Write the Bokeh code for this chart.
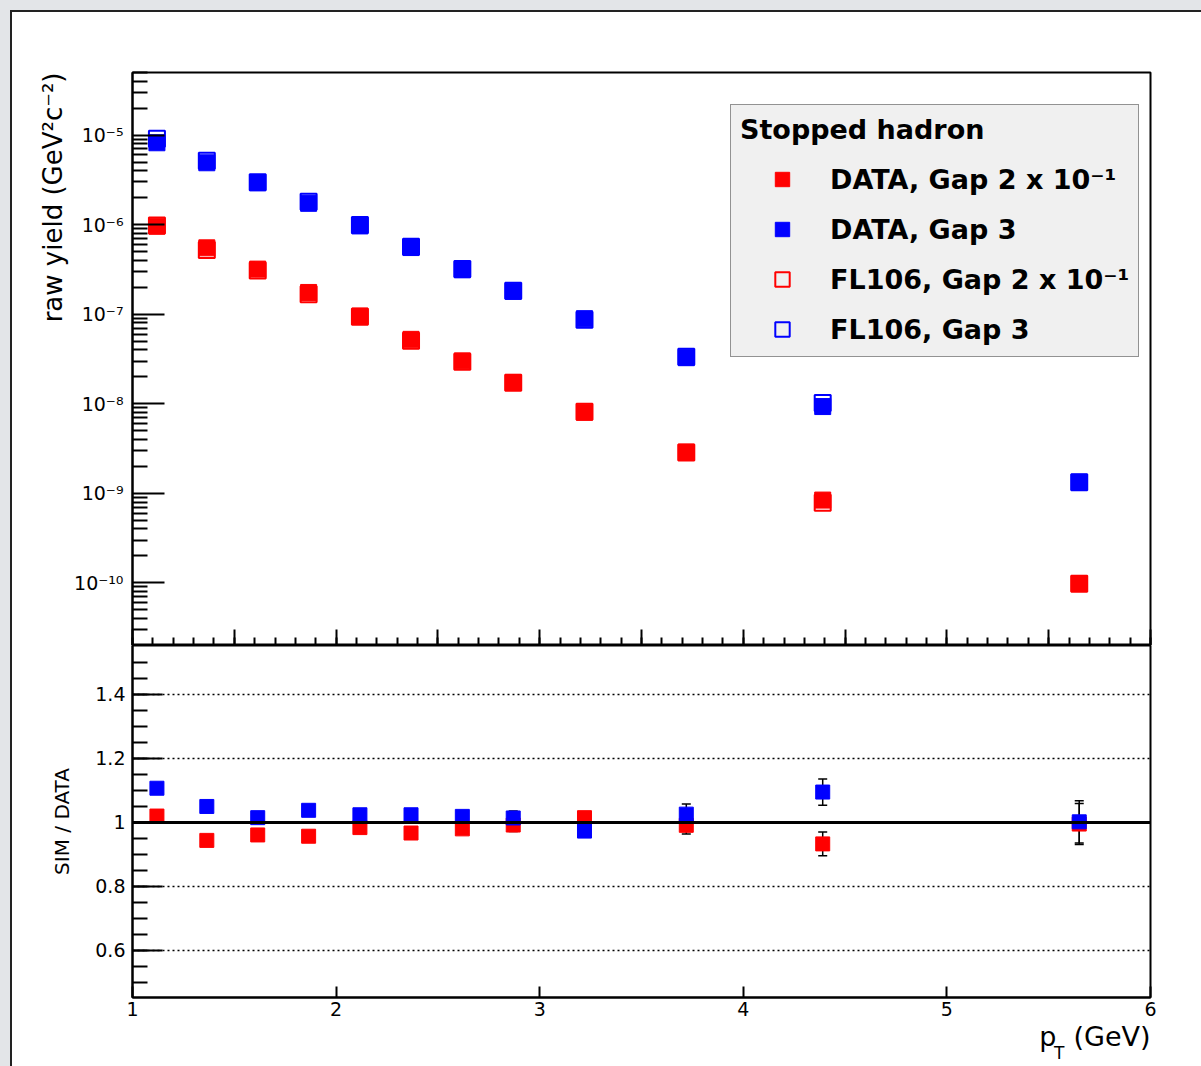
from bokeh.plotting import figure
from bokeh.models import (Range1d, FixedTicker, CustomJSTickFormatter, Legend, LegendItem,
                          Span, Title, Whisker, TeeHead, ColumnDataSource, Spacer)
from bokeh.layouts import column, row
from bokeh.embed import file_html
from bokeh.resources import INLINE

# ---------------- data ----------------
pt = [1.12, 1.365, 1.615, 1.865, 2.117, 2.368, 2.62, 2.87, 3.22, 3.72, 4.39, 5.65]

data_gap2 = [9.62e-7, 5.51e-7, 3.19e-7, 1.75e-7, 9.55e-8, 5.24e-8, 3.01e-8, 1.73e-8,
             8.05e-9, 2.88e-9, 8.41e-10, 9.85e-11]
data_gap3 = [8.21e-6, 4.91e-6, 2.94e-6, 1.73e-6, 9.68e-7, 5.55e-7, 3.13e-7, 1.80e-7,
             8.91e-8, 3.27e-8, 9.31e-9, 1.33e-9]
sim_gap2 = [9.81e-7, 5.20e-7, 3.07e-7, 1.67e-7, 9.40e-8, 5.07e-8, 2.95e-8, 1.72e-8,
            8.17e-9, 2.85e-9, 7.85e-10, 9.80e-11]
sim_gap3 = [9.09e-6, 5.16e-6, 2.98e-6, 1.80e-6, 9.91e-7, 5.68e-7, 3.19e-7, 1.83e-7,
            8.67e-8, 3.36e-8, 1.02e-8, 1.33e-9]

ratio_gap2 = [1.020, 0.944, 0.961, 0.957, 0.984, 0.967, 0.980, 0.992, 1.015, 0.991, 0.933, 0.995]
ratio_gap2_err = [0.005, 0.006, 0.007, 0.008, 0.009, 0.011, 0.013, 0.020, 0.017, 0.027, 0.037, 0.064]
ratio_gap3 = [1.107, 1.050, 1.015, 1.038, 1.024, 1.024, 1.019, 1.014, 0.973, 1.026, 1.095, 1.002]
ratio_gap3_err = [0.006, 0.006, 0.007, 0.008, 0.009, 0.010, 0.012, 0.022, 0.018, 0.032, 0.041, 0.066]

legend_title = "Stopped hadron"
legend_labels = ["DATA, Gap 2 x 10\u207b\u00b9", "DATA, Gap 3",
                 "FL106, Gap 2 x 10\u207b\u00b9", "FL106, Gap 3"]
y_title_top = "raw yield (GeV\u00b2c\u207b\u00b2)"
y_title_bottom = "SIM / DATA"
x_title_main = "p\u00a0\u00a0(GeV)"
x_title_sub = "T"

# ---------------- layout constants ----------------
FONT = "DejaVu Sans"
RED = "#ff0000"
BLUE = "#0000ff"
GREY = "#e3e5e8"
DARK = "#222222"

X0, X1 = 1.0, 6.0
Y0, Y1 = 2e-11, 5e-5
R0, R1 = 0.453, 1.553
W = 1189
H1, H2 = 633, 421
BL, BR = 120, 51

# ---------------- top panel ----------------
p1 = figure(width=W, height=H1, x_range=Range1d(X0, X1), y_range=Range1d(Y0, Y1),
            y_axis_type="log", output_backend="svg", toolbar_location=None,
            min_border_left=BL, min_border_right=BR, min_border_top=60, min_border_bottom=0,
            background_fill_color="white", border_fill_color="white")
p1.grid.visible = False
p1.outline_line_color = "black"
p1.outline_line_width = 2

log_fmt = CustomJSTickFormatter(code="""
const sup = {"-": "\u207b", "0": "\u2070", "1": "\u00b9", "2": "\u00b2", "3": "\u00b3",
             "4": "\u2074", "5": "\u2075", "6": "\u2076", "7": "\u2077", "8": "\u2078", "9": "\u2079"};
const e = Math.round(Math.log10(tick));
return "10" + String(e).split("").map(c => sup[c]).join("");
""")
ya = p1.yaxis[0]
ya.ticker = FixedTicker(ticks=[10.0 ** k for k in range(-10, -4)],
                        minor_ticks=[m * 10.0 ** k for k in range(-11, -4) for m in range(2, 10)])
ya.formatter = log_fmt
ya.major_tick_in = 32
ya.major_tick_out = 0
ya.minor_tick_in = 15
ya.minor_tick_out = 0
ya.major_tick_line_width = 2
ya.minor_tick_line_width = 2
ya.axis_line_width = 2
ya.major_label_text_font = FONT
ya.major_label_text_font_size = "19px"
ya.major_label_text_color = "black"
ya.major_label_standoff = 9

xa = p1.xaxis[0]
xa.ticker = FixedTicker(ticks=[1 + 0.5 * i for i in range(11)],
                        minor_ticks=[1 + 0.1 * i for i in range(51)])
xa.formatter = CustomJSTickFormatter(code="return '';")
xa.major_tick_in = 16
xa.major_tick_out = 0
xa.minor_tick_in = 8
xa.minor_tick_out = 0
xa.major_tick_line_width = 2
xa.minor_tick_line_width = 2
xa.axis_line_width = 2
xa.major_label_text_font_size = "0px"
xa.major_label_standoff = 0

r_s2 = p1.scatter(pt, sim_gap2, marker="square", size=16, fill_color=None,
                  line_color=RED, line_width=2)
r_s3 = p1.scatter(pt, sim_gap3, marker="square", size=16, fill_color=None,
                  line_color=BLUE, line_width=2)
r_d2 = p1.scatter(pt, data_gap2, marker="square", size=16, fill_color=RED, line_color=RED)
r_d3 = p1.scatter(pt, data_gap3, marker="square", size=16, fill_color=BLUE, line_color=BLUE)

legend = Legend(items=[LegendItem(label=legend_labels[0], renderers=[r_d2]),
                       LegendItem(label=legend_labels[1], renderers=[r_d3]),
                       LegendItem(label=legend_labels[2], renderers=[r_s2]),
                       LegendItem(label=legend_labels[3], renderers=[r_s3])],
                location=(598, 288), title=legend_title,
                title_text_font=FONT, title_text_font_style="bold", title_text_font_size="27px",
                title_text_color="black", title_standoff=16,
                label_text_font=FONT, label_text_font_style="bold", label_text_font_size="27px",
                label_text_color="black",
                background_fill_color="#f0f0f0", background_fill_alpha=1.0,
                border_line_color="#333333", border_line_width=1.5,
                padding=9, margin=0, spacing=14, glyph_width=84, glyph_height=36,
                label_height=36, label_standoff=6)
p1.add_layout(legend)

p1.add_layout(Title(text=y_title_top, align="right", text_font=FONT, text_font_size="26px",
                    text_font_style="normal", text_color="black", standoff=8, offset=0), "left")

# ---------------- bottom panel ----------------
p2 = figure(width=W, height=H2, x_range=Range1d(X0, X1), y_range=Range1d(R0, R1),
            output_backend="svg", toolbar_location=None,
            min_border_left=BL, min_border_right=BR, min_border_top=0, min_border_bottom=69,
            background_fill_color="white", border_fill_color="white")
p2.outline_line_color = "black"
p2.outline_line_width = 2
p2.xgrid.visible = False
p2.ygrid.ticker = FixedTicker(ticks=[0.6, 0.8, 1.2, 1.4])
p2.ygrid.grid_line_color = "black"
p2.ygrid.grid_line_width = 1.5
p2.ygrid.grid_line_dash = "2 3"

num_fmt = CustomJSTickFormatter(code="return String(Math.round(tick * 100) / 100);")

xb = p2.xaxis[0]
xb.ticker = FixedTicker(ticks=[1, 2, 3, 4, 5, 6], minor_ticks=[])
xb.formatter = num_fmt
xb.major_tick_in = 11
xb.major_tick_out = 0
xb.minor_tick_in = 0
xb.minor_tick_out = 0
xb.major_tick_line_width = 2
xb.axis_line_width = 2
xb.major_label_text_font = FONT
xb.major_label_text_font_size = "19px"
xb.major_label_text_color = "black"
xb.major_label_standoff = 4

yb = p2.yaxis[0]
yb.ticker = FixedTicker(ticks=[0.6, 0.8, 1.0, 1.2, 1.4],
                        minor_ticks=[round(0.5 + 0.05 * i, 2) for i in range(21)])
yb.formatter = num_fmt
yb.major_tick_in = 30
yb.major_tick_out = 0
yb.minor_tick_in = 15
yb.minor_tick_out = 0
yb.major_tick_line_width = 2
yb.minor_tick_line_width = 2
yb.axis_line_width = 2
yb.major_label_text_font = FONT
yb.major_label_text_font_size = "19px"
yb.major_label_text_color = "black"
yb.major_label_standoff = 7
yb.axis_label = y_title_bottom
yb.axis_label_text_font = FONT
yb.axis_label_text_font_style = "normal"
yb.axis_label_text_font_size = "20px"
yb.axis_label_text_color = "black"
yb.axis_label_standoff = 18

p2.add_layout(Span(location=1.0, dimension="width", line_color="black", line_width=3))

for ratio, err in ((ratio_gap2, ratio_gap2_err), (ratio_gap3, ratio_gap3_err)):
    src = ColumnDataSource(dict(x=pt, upper=[r + e for r, e in zip(ratio, err)],
                                lower=[r - e for r, e in zip(ratio, err)]))
    p2.add_layout(Whisker(source=src, base="x", upper="upper", lower="lower",
                          line_color="black", line_width=1.5, level="underlay",
                          upper_head=TeeHead(size=9, line_color="black", line_width=1.5),
                          lower_head=TeeHead(size=9, line_color="black", line_width=1.5)))

p2.scatter(pt, ratio_gap2, marker="square", size=14, fill_color=RED, line_color=RED)
p2.scatter(pt, ratio_gap3, marker="square", size=14, fill_color=BLUE, line_color=BLUE)

p2.add_layout(Title(text=x_title_main, align="right", text_font=FONT, text_font_size="27px",
                    text_font_style="normal", text_color="black", standoff=0, offset=0), "below")
p2.add_layout(Title(text=x_title_sub, align="right", text_font=FONT, text_font_size="17px",
                    text_font_style="normal", text_color="black", standoff=-21, offset=86), "below")

# ---------------- page ----------------
top_strip = Spacer(width=1201, height=10, styles={"background-color": GREY})
left_strip = Spacer(width=10, height=1056, styles={"background-color": GREY})
left_edge = Spacer(width=2, height=1056, styles={"background-color": DARK})
top_edge = Spacer(width=W, height=2, styles={"background-color": DARK})
layout = column(top_strip, row(left_strip, left_edge, column(top_edge, p1, p2)))

open("out.html", "w").write(file_html(layout, INLINE))
